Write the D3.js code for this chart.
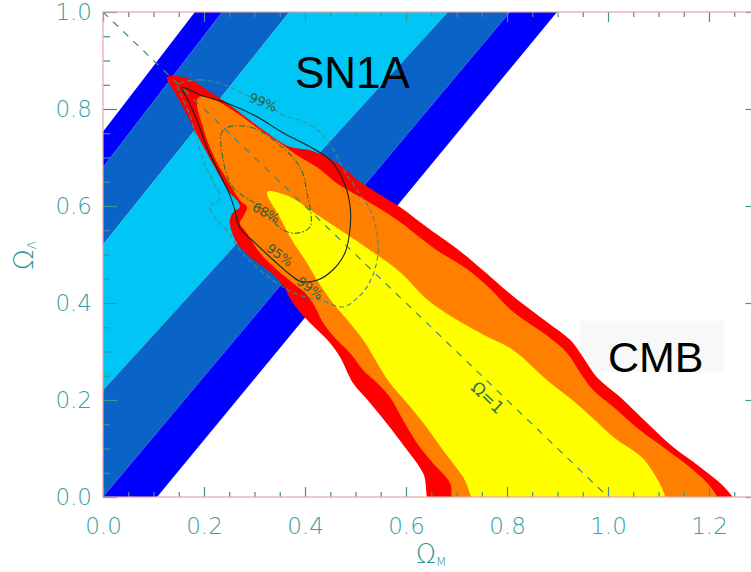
<!DOCTYPE html>
<html><head><meta charset="utf-8">
<script src="https://cdn.jsdelivr.net/npm/d3@7"></script>
<style>body{margin:0;background:#fff}</style>
</head><body>
<svg id="c" width="751" height="572"></svg>
<script>
// ---------- data ----------
const xMajorTicks = [0, 0.2, 0.4, 0.6, 0.8, 1.0, 1.2];
const yMajorTicks = [0, 0.2, 0.4, 0.6, 0.8, 1.0];
const xMinorTicks = [0.05,0.1,0.15,0.25,0.3,0.35,0.45,0.5,0.55,0.65,0.7,0.75,0.85,0.9,0.95,1.05,1.1,1.15,1.25];
const yMinorTicks = [0.05,0.1,0.15,0.25,0.3,0.35,0.45,0.5,0.55,0.65,0.7,0.75,0.85,0.9,0.95];

// SN1A band boundaries: Omega_M where each boundary crosses Omega_L = 0 and Omega_L = 1
const snBoundaryAtY0 = [-0.555, -0.501, -0.400, -0.193, 0.000, 0.107];
const snBoundaryAtY1 = [ 0.182,  0.236,  0.369,  0.683, 0.806, 0.899];
const snBandColors = ["#0000ff", "#0a64c8", "#00c6f6", "#0a64c8", "#0000ff"];

// CMB confidence regions (Omega_M, Omega_L)
const cmbRed = [[0.127,0.866],[0.166,0.864],[0.206,0.839],[0.246,0.812],[0.291,0.777],[0.337,0.742],[0.370,0.722],[0.410,0.715],[0.444,0.701],[0.475,0.680],[0.503,0.654],[0.543,0.627],[0.588,0.598],[0.648,0.551],[0.701,0.512],[0.747,0.472],[0.812,0.414],[0.879,0.361],[0.925,0.324],[0.950,0.289],[0.978,0.247],[1.024,0.206],[1.077,0.153],[1.129,0.103],[1.182,0.062],[1.236,0.014],[1.258,-0.03],
[0.658,-0.03],[0.634,0.049],[0.602,0.097],[0.568,0.144],[0.529,0.194],[0.495,0.235],[0.469,0.289],[0.444,0.324],[0.410,0.359],[0.386,0.386],[0.370,0.410],[0.360,0.431],[0.331,0.464],[0.291,0.495],[0.265,0.524],[0.251,0.567],[0.257,0.586],[0.271,0.598],[0.265,0.612],[0.251,0.627],[0.232,0.660],[0.206,0.709],[0.178,0.763],[0.158,0.804],[0.139,0.839]];
const cmbOrange = [[0.186,0.808],[0.190,0.825],[0.212,0.823],[0.265,0.792],[0.311,0.757],[0.356,0.726],[0.390,0.701],[0.424,0.680],[0.463,0.647],[0.495,0.627],[0.543,0.598],[0.588,0.567],[0.661,0.509],[0.721,0.470],[0.766,0.430],[0.812,0.382],[0.879,0.333],[0.919,0.297],[0.945,0.256],[0.970,0.221],[1.010,0.186],[1.063,0.138],[1.117,0.097],[1.168,0.056],[1.208,0.014],[1.224,-0.03],
[0.700,-0.03],[0.687,0.029],[0.653,0.070],[0.622,0.111],[0.594,0.159],[0.568,0.206],[0.543,0.235],[0.515,0.262],[0.489,0.297],[0.463,0.324],[0.436,0.359],[0.420,0.392],[0.400,0.421],[0.374,0.443],[0.345,0.468],[0.311,0.503],[0.285,0.544],[0.271,0.565],[0.277,0.577],[0.285,0.598],[0.271,0.612],[0.246,0.654],[0.226,0.689],[0.206,0.736],[0.198,0.763]];
const cmbYellow = [[0.325,0.629],[0.370,0.619],[0.410,0.592],[0.469,0.551],[0.529,0.509],[0.588,0.464],[0.648,0.402],[0.747,0.338],[0.812,0.303],[0.879,0.241],[0.945,0.186],[1.010,0.124],[1.077,0.070],[1.112,-0.03],
[0.752,-0.03],[0.713,0.041],[0.673,0.097],[0.634,0.153],[0.602,0.194],[0.568,0.235],[0.543,0.276],[0.519,0.318],[0.489,0.359],[0.455,0.400],[0.424,0.447],[0.400,0.489],[0.374,0.530],[0.350,0.577]];

// SN1A contour lines
const sn99 = [[0.149,0.849],[0.192,0.860],[0.242,0.849],[0.291,0.825],[0.317,0.814],[0.356,0.788],[0.404,0.771],[0.444,0.736],[0.475,0.678],[0.503,0.633],[0.529,0.592],[0.543,0.540],[0.543,0.489],[0.525,0.437],[0.499,0.406],[0.475,0.392],[0.430,0.406],[0.390,0.416],[0.356,0.433],[0.311,0.468],[0.271,0.509],[0.248,0.546],[0.222,0.575],[0.212,0.598],[0.232,0.616],[0.222,0.643],[0.202,0.685],[0.186,0.736],[0.172,0.788],[0.156,0.825]];
const sn95 = [[0.156,0.845],[0.192,0.829],[0.246,0.812],[0.305,0.784],[0.356,0.751],[0.410,0.722],[0.450,0.695],[0.475,0.654],[0.489,0.602],[0.489,0.551],[0.479,0.503],[0.455,0.468],[0.424,0.447],[0.390,0.445],[0.376,0.454],[0.341,0.485],[0.301,0.524],[0.271,0.555],[0.261,0.592],[0.251,0.623],[0.232,0.664],[0.208,0.715],[0.186,0.777],[0.168,0.819]];
const sn68 = [[0.238,0.757],[0.291,0.763],[0.345,0.730],[0.390,0.680],[0.404,0.627],[0.410,0.557],[0.384,0.544],[0.356,0.551],[0.311,0.598],[0.257,0.639],[0.238,0.695]];

const contourLabelText = ["99%", "68%", "95%", "99%"];
const contourLabelX = [0.317, 0.323, 0.350, 0.410];
const contourLabelY = [0.814, 0.586, 0.499, 0.431];
const contourLabelAngle = [22, 28, 36, 36];

const flatLine = [[0, 1], [1, 0]];

// ---------- layout ----------
const svg = d3.select("#c");
const L = 103, R = 759.5, T = 12, B = 497;
const x = d3.scaleLinear().domain([0, 1.3]).range([L, R]);
const y = d3.scaleLinear().domain([0, 1]).range([B, T]);

svg.append("defs").append("clipPath").attr("id", "clip")
  .append("rect").attr("x", L).attr("y", T).attr("width", R - L).attr("height", B - T);

const plot = svg.append("g").attr("clip-path", "url(#clip)");

// faint panel behind the CMB label (drawn first, under everything)
const cmbBox = plot.append("rect").attr("fill", "#f8f8f8");

// SN1A bands
const bx = (i, yy) => snBoundaryAtY0[i] + (snBoundaryAtY1[i] - snBoundaryAtY0[i]) * yy;
snBandColors.forEach((col, i) => {
  const pts = [[bx(i, -0.5), -0.5], [bx(i, 1.5), 1.5], [bx(i + 1, 1.5), 1.5], [bx(i + 1, -0.5), -0.5]];
  plot.append("path")
    .attr("d", d3.line().x(d => x(d[0])).y(d => y(d[1]))(pts) + "Z")
    .attr("fill", col);
});

// CMB regions
const area = d3.line().x(d => x(d[0])).y(d => y(d[1])).curve(d3.curveCatmullRomClosed.alpha(0.5));
[[cmbRed, "#ff0000"], [cmbOrange, "#ff7f00"], [cmbYellow, "#ffff00"]].forEach(([pts, col]) => {
  plot.append("path").attr("d", area(pts)).attr("fill", col);
});

// SN1A contours
const cl = d3.line().x(d => x(d[0])).y(d => y(d[1])).curve(d3.curveCatmullRomClosed.alpha(0.5));
plot.append("path").attr("d", cl(sn99)).attr("fill", "none")
  .attr("stroke", "#3f8f86").attr("stroke-width", 1.1).attr("stroke-dasharray", "5,3");
plot.append("path").attr("d", cl(sn95)).attr("fill", "none")
  .attr("stroke", "#10241a").attr("stroke-width", 1.1);
plot.append("path").attr("d", cl(sn68)).attr("fill", "none")
  .attr("stroke", "#2e6e3e").attr("stroke-width", 1.1).attr("stroke-dasharray", "6,2,1.5,2");

contourLabelText.forEach((t, i) => {
  plot.append("text")
    .attr("transform", `translate(${x(contourLabelX[i])},${y(contourLabelY[i])}) rotate(${contourLabelAngle[i]})`)
    .attr("text-anchor", "middle").attr("dy", "0.35em")
    .attr("font-family", "DejaVu Sans, sans-serif").attr("font-size", 13)
    .attr("fill", "#2d5e3e").text(t);
});

// Omega = 1 line
plot.append("path")
  .attr("d", d3.line().x(d => x(d[0])).y(d => y(d[1]))(flatLine))
  .attr("stroke", "#3d8a72").attr("stroke-width", 1.2).attr("stroke-dasharray", "7,7").attr("fill", "none");
const ang = Math.atan2(y(0) - y(1), x(1) - x(0)) * 180 / Math.PI;
plot.append("text")
  .attr("transform", `translate(${x(0.762)},${y(0.205)}) rotate(${ang})`)
  .attr("text-anchor", "middle").attr("dy", "0.35em")
  .attr("font-family", "DejaVu Sans, sans-serif").attr("font-size", 17)
  .attr("fill", "#2a7a45").text("Ω=1");

// big labels
plot.append("text").attr("x", x(0.380)).attr("y", y(0.843))
  .attr("font-family", "Liberation Sans, Arial, sans-serif").attr("font-size", 44)
  .attr("fill", "#000").text("SN1A");
const cmbT = plot.append("text").attr("x", x(1.0)).attr("y", y(0.258))
  .attr("font-family", "Liberation Sans, Arial, sans-serif").attr("font-size", 43)
  .attr("fill", "#000").text("CMB");
const bb = cmbT.node().getBBox();
cmbBox.attr("x", bb.x - 28).attr("y", bb.y - 12).attr("width", bb.width + 48).attr("height", bb.height + 4);

// ---------- axes ----------
const axG = svg.append("g");
const tickCol = "#3a9494", axisCol = "#e9a3a3";
const labelFont = "DejaVu Sans, sans-serif";

function styleAxis(g) {
  g.select(".domain").remove();
  g.selectAll(".tick line").attr("stroke", tickCol).attr("stroke-width", 1.2);
  g.selectAll(".tick text").attr("fill", "#3aa0a0").attr("font-family", labelFont)
    .attr("font-size", 23).attr("font-weight", 200);
}
const fmt = d3.format(".1f");
axG.append("g").attr("transform", `translate(0,${B})`)
  .call(d3.axisBottom(x).tickValues(xMajorTicks).tickSize(-10).tickSizeOuter(0).tickPadding(21).tickFormat(fmt)).call(styleAxis);
axG.append("g").attr("transform", `translate(0,${B})`)
  .call(d3.axisBottom(x).tickValues(xMinorTicks).tickSize(-5).tickSizeOuter(0).tickFormat("")).call(styleAxis);
axG.append("g").attr("transform", `translate(0,${T})`)
  .call(d3.axisTop(x).tickValues(xMajorTicks).tickSize(-10).tickSizeOuter(0).tickFormat("")).call(styleAxis);
axG.append("g").attr("transform", `translate(0,${T})`)
  .call(d3.axisTop(x).tickValues(xMinorTicks).tickSize(-5).tickSizeOuter(0).tickFormat("")).call(styleAxis);
axG.append("g").attr("transform", `translate(${L},0)`)
  .call(d3.axisLeft(y).tickValues(yMajorTicks).tickSize(-14).tickSizeOuter(0).tickPadding(11).tickFormat(fmt)).call(styleAxis);
axG.append("g").attr("transform", `translate(${L},0)`)
  .call(d3.axisLeft(y).tickValues(yMinorTicks).tickSize(-7).tickSizeOuter(0).tickFormat("")).call(styleAxis);
axG.append("g").attr("transform", `translate(${R},0)`)
  .call(d3.axisRight(y).tickValues(yMajorTicks).tickSize(-14).tickSizeOuter(0).tickFormat("")).call(styleAxis);
axG.append("g").attr("transform", `translate(${R},0)`)
  .call(d3.axisRight(y).tickValues(yMinorTicks).tickSize(-7).tickSizeOuter(0).tickFormat("")).call(styleAxis);

axG.append("rect").attr("x", L).attr("y", T).attr("width", R - L).attr("height", B - T)
  .attr("fill", "none").attr("stroke", axisCol).attr("stroke-width", 1.2);

// axis titles
const xt = svg.append("text").attr("x", 416).attr("y", 563)
  .attr("font-family", labelFont).attr("font-size", 26).attr("font-weight", 200).attr("fill", "#2f8f8f");
xt.append("tspan").text("Ω");
xt.append("tspan").attr("font-size", 12).attr("dy", 3).text("M");

const yt = svg.append("text").attr("transform", "translate(33,270) rotate(-90)")
  .attr("font-family", labelFont).attr("font-size", 27).attr("font-weight", 200).attr("fill", "#2f8f8f");
yt.append("tspan").text("Ω");
yt.append("tspan").attr("font-size", 12).attr("dy", 3).text("Λ");
</script>
</body></html>
